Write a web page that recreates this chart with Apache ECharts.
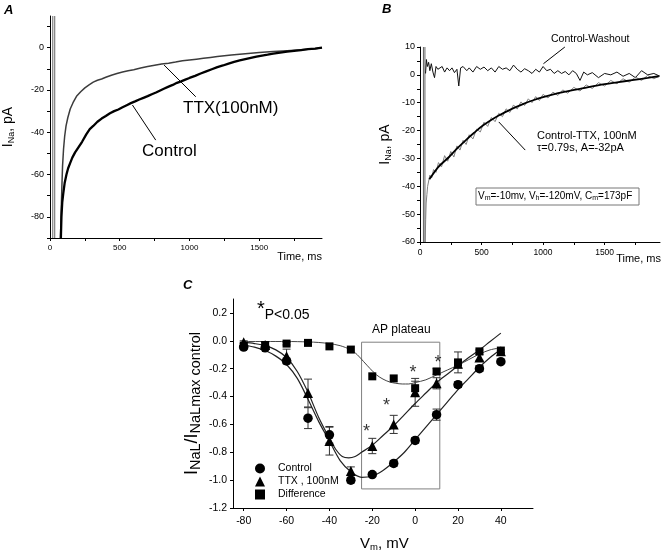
<!DOCTYPE html>
<html><head><meta charset="utf-8">
<script src="https://cdn.jsdelivr.net/npm/echarts@6/dist/echarts.min.js"></script>
<style>html,body{margin:0;padding:0;background:#fff}#c{width:666px;height:555px}</style>
</head><body><div id="c"></div>
<script>
// ---------- Panel A (time course, ms / pA) ----------
const aTtxTrace = [[75,-90],[80,-78],[85,-66],[90,-56],[97,-48],[105,-42],[115,-37],[128,-33],[145,-29],[165,-26],[190,-23],[220,-20.8],[250,-19],[280,-17.6],[310,-16.3],[340,-15.4],[370,-14.8],[400,-14],[440,-13],[480,-12.2],[520,-11.5],[560,-10.9],[600,-10.4],[650,-9.6],[700,-8.9],[750,-8.3],[800,-7.7],[850,-7.3],[900,-6.8],[950,-6.2],[1000,-5.8],[1050,-5.4],[1100,-5],[1150,-4.6],[1200,-4.2],[1300,-3.5],[1400,-2.9],[1500,-2.3],[1600,-1.8],[1700,-1.4],[1800,-1],[1900,-0.5],[1950,0]];
const aControlTrace = [[78,-90],[82,-80],[88,-73],[95,-69],[105,-64],[118,-60],[130,-57],[145,-54.5],[160,-52],[180,-49.5],[205,-47],[230,-44.5],[260,-41],[285,-38.5],[310,-37],[340,-35],[370,-33.5],[400,-32.3],[430,-31],[460,-30],[490,-29.2],[520,-28.2],[550,-27.2],[580,-26.2],[610,-25.4],[640,-24.5],[670,-23.7],[700,-22.9],[730,-22],[760,-21.2],[790,-20.2],[820,-19.3],[850,-18.4],[880,-17.6],[910,-16.6],[940,-15.9],[970,-15.1],[1000,-14.3],[1040,-13.3],[1080,-12.2],[1120,-11.2],[1160,-10.2],[1200,-9.2],[1240,-8.4],[1280,-7.5],[1320,-6.7],[1360,-6],[1400,-5.4],[1440,-4.8],[1480,-4.2],[1520,-3.7],[1560,-3.3],[1600,-2.8],[1650,-2.3],[1700,-1.9],[1750,-1.5],[1800,-1.1],[1850,-0.7],[1900,-0.4],[1950,0]];
const aTransientMs = [20, 34];
const aXTicks = [0,250,500,750,1000,1250,1500,1750];
const aXLabels = [0,500,1000,1500];
const aYTicks = [-90,-80,-70,-60,-50,-40,-30,-20,-10,0,10];
const aYLabels = [-80,-60,-40,-20,0];

// ---------- Panel B ----------
const bWashoutTrace = [[45,0.5],[52,5.5],[60,3],[70,4.5],[80,1.5],[92,4],[105,1],[118,-1],[130,3],[145,2],[160,1.5],[180,3],[200,1],[220,2.5],[240,1.5],[260,2.5],[280,0.8],[300,2],[315,-4],[330,2.5],[350,3],[380,1.5],[400,2.5],[430,1],[460,3],[490,2],[520,2.8],[550,1.5],[580,2.5],[610,1],[640,3],[670,2],[700,2.5],[730,1.5],[760,3.5],[790,2],[820,1],[850,2.2],[880,1.5],[910,0.5],[940,2],[970,1],[1000,3],[1030,1.5],[1060,2],[1090,0.5],[1120,1.5],[1150,0.5],[1180,1.2],[1210,0],[1240,1.5],[1270,0.5],[1300,-2],[1330,1],[1360,0],[1400,0.8],[1450,-1],[1500,0.5],[1550,0],[1600,1],[1650,-0.5],[1700,0.5],[1750,-1],[1800,1.5],[1850,0],[1900,0.5],[1950,-0.5]];
const bSubtractedTrace = [[42,-60],[46,-52],[50,-46],[56,-43],[62,-40],[70,-39.5],[80,-36],[95,-37],[110,-34],[130,-35],[150,-31.5],[175,-33],[200,-29],[225,-31],[250,-27.5],[275,-29.5],[300,-25.5],[325,-27],[350,-23.5],[375,-25],[400,-21.5],[430,-23],[460,-19.5],[490,-20.5],[520,-17],[550,-18.5],[580,-15.3],[610,-16.8],[640,-13.8],[670,-15],[700,-12.2],[730,-13.5],[760,-10.8],[790,-12.3],[820,-9.7],[850,-11],[880,-8.6],[910,-10],[940,-7.8],[970,-9.2],[1000,-7],[1040,-8.3],[1080,-6.2],[1120,-7.4],[1160,-5.4],[1200,-6.6],[1250,-4.5],[1300,-5.8],[1350,-3.6],[1400,-4.9],[1450,-2.8],[1500,-4],[1550,-2],[1600,-3.2],[1650,-1.4],[1700,-2.6],[1750,-0.8],[1800,-2],[1850,-0.2],[1900,-1.4],[1950,-0.3]];
const bFitCurve = [[76,-37.5],[150,-33],[238,-29.4],[300,-26.5],[373,-23.4],[440,-20.8],[508,-18.3],[575,-16.3],[643,-14.5],[710,-13],[778,-11.6],[846,-10.3],[914,-9.2],[1000,-8],[1100,-6.8],[1184,-6],[1300,-5],[1454,-3.7],[1600,-2.7],[1724,-1.9],[1850,-1.1],[1940,-0.5]];
const bTransientMs = [28, 40];
const bXTicks = [0,250,500,750,1000,1250,1500,1750];
const bXLabels = [0,500,1000,1500];
const bYTicks = [-60,-55,-50,-45,-40,-35,-30,-25,-20,-15,-10,-5,0,5,10];
const bYLabels = [-60,-50,-40,-30,-20,-10,0,10];

// ---------- Panel C (I-V) ----------
const cVoltages = [-80,-70,-60,-50,-40,-30,-20,-10,0,10,20,30,40];
const cControl    = [-0.045,-0.05,-0.145,-0.555,-0.675,-1.0,-0.96,-0.88,-0.715,-0.53,-0.315,-0.20,-0.15];
const cControlErr = [0.01,0.01,0.02,0.075,0.06,0.02,0.015,0.02,0.02,0.04,0.02,0.02,0.01];
const cTtx        = [-0.01,-0.03,-0.11,-0.375,-0.72,-0.935,-0.755,-0.60,-0.37,-0.305,-0.165,-0.12,-0.075];
const cTtxErr     = [0.01,0.02,0.05,0.1,0.1,0.03,0.055,0.065,0.1,0.04,0.03,0.02,0.01];
const cDiff       = [-0.035,-0.03,-0.02,-0.015,-0.04,-0.063,-0.255,-0.27,-0.34,-0.22,-0.155,-0.076,-0.07];
const cDiffErr    = [0,0,0.01,0,0,0,0,0,0.05,0.02,0.075,0.01,0];
const cControlFit = [[-80,-0.03],[-75,-0.045],[-70,-0.07],[-65,-0.11],[-60,-0.17],[-55,-0.27],[-50,-0.42],[-45,-0.58],[-40,-0.72],[-35,-0.86],[-30,-0.94],[-25,-0.98],[-20,-0.97],[-15,-0.93],[-10,-0.87],[-5,-0.8],[0,-0.71],[5,-0.62],[10,-0.53],[15,-0.44],[20,-0.35],[25,-0.27],[30,-0.19],[35,-0.12],[40,-0.06]];
const cTtxFit = [[-80,-0.01],[-75,-0.02],[-70,-0.035],[-65,-0.065],[-60,-0.12],[-55,-0.22],[-50,-0.37],[-45,-0.55],[-40,-0.7],[-37,-0.78],[-34,-0.83],[-31,-0.84],[-28,-0.83],[-25,-0.8],[-20,-0.75],[-15,-0.68],[-10,-0.61],[-5,-0.53],[0,-0.45],[5,-0.375],[10,-0.3],[15,-0.24],[20,-0.18],[25,-0.12],[30,-0.065],[35,-0.005],[40,0.055]];
const cDiffFit = [[-80,-0.005],[-70,-0.005],[-60,-0.005],[-50,-0.008],[-45,-0.012],[-40,-0.02],[-35,-0.035],[-30,-0.065],[-27,-0.1],[-24,-0.15],[-21,-0.2],[-18,-0.245],[-15,-0.275],[-12,-0.295],[-9,-0.305],[-6,-0.31],[-3,-0.31],[0,-0.3],[5,-0.28],[10,-0.245],[15,-0.21],[20,-0.175],[25,-0.135],[30,-0.095],[35,-0.065],[40,-0.05]];
const cStars = [[-22.7,-0.63],[-13.4,-0.45],[-1,-0.21],[10.7,-0.135]];
const cPlateau = [[-25,-0.01],[11.5,-1.063]];
const cXTicks = [-80,-60,-40,-20,0,20,40];
const cYTicks = [-1.2,-1.0,-0.8,-0.6,-0.4,-0.2,0,0.2];

const FONT = 'Liberation Sans, Arial, Helvetica, sans-serif';
const chart = echarts.init(document.getElementById('c'), null, {renderer:'canvas', width:666, height:555});
const plain = v => String(v);

function xAxisCfg(grid, min, max, ticks, labels, fs, margin){
  return {type:'value', gridIndex:grid, min, max, splitLine:{show:false},
    axisLine:{show:true, onZero:false, lineStyle:{color:'#000', width:1}},
    axisTick:{show:true, inside:false, length:3, customValues:ticks, lineStyle:{color:'#000'}},
    axisLabel:{customValues:labels, fontSize:fs, margin, color:'#000', fontFamily:FONT, formatter:plain}};
}
function yAxisCfg(grid, min, max, ticks, labels, fs, margin, fmt){
  return {type:'value', gridIndex:grid, min, max, splitLine:{show:false},
    axisLine:{show:true, onZero:false, lineStyle:{color:'#000', width:1}},
    axisTick:{show:true, inside:false, length:3, customValues:ticks, lineStyle:{color:'#000'}},
    axisLabel:{customValues:labels, fontSize:fs, margin, color:'#000', fontFamily:FONT, formatter:fmt || plain}};
}
function subRich(main, sub, pad){
  return {m:{fontSize:main, fontFamily:FONT, fontWeight:'normal', color:'#000'},
          s:{fontSize:sub, fontFamily:FONT, fontWeight:'normal', color:'#000', padding:[pad,0,0,0]}};
}
function vline(xi, yi, x, y0, y1, color, w){
  return {type:'line', xAxisIndex:xi, yAxisIndex:yi, data:[[x,y0],[x,y1]], showSymbol:false, symbol:'none',
    lineStyle:{color, width:w}, silent:true};
}
const arrowStyle = {color:'#000', width:1, type:'solid'};
function arrows(pairs){
  return {symbol:['none','arrow'], symbolSize:[0,7], silent:true, label:{show:false}, lineStyle:arrowStyle,
    data: pairs.map(p => [{coord:p[0]},{coord:p[1]}])};
}
function errBar(xi, yi, vals, errs, z){
  return {type:'custom', xAxisIndex:xi, yAxisIndex:yi, z,
    data: cVoltages.map((v,i)=>[v, vals[i], errs[i]]),
    encode:{x:0, y:1},
    renderItem(params, api){
      const x = api.value(0), y = api.value(1), e = api.value(2);
      if (!e) return null;
      const t = api.coord([x, y+e]), b = api.coord([x, y-e]);
      const hw = 4, st = {stroke:'#333', lineWidth:1};
      return {type:'group', children:[
        {type:'line', shape:{x1:t[0], y1:t[1], x2:b[0], y2:b[1]}, style:st},
        {type:'line', shape:{x1:t[0]-hw, y1:t[1], x2:t[0]+hw, y2:t[1]}, style:st},
        {type:'line', shape:{x1:b[0]-hw, y1:b[1], x2:b[0]+hw, y2:b[1]}, style:st}
      ]};
    }};
}
function title(text, left, top, fs, extra){
  return {text, left, top, padding:0, textStyle:Object.assign({fontSize:fs, fontWeight:'normal', fontFamily:FONT, color:'#000'}, (extra||{}))};
}

const option = {
  animation:false,
  backgroundColor:'#fff',
  grid:[
    {left:49, top:16, width:273, height:222},
    {left:420, top:47, width:240, height:195},
    {left:233, top:299, width:300, height:209}
  ],
  xAxis:[
    xAxisCfg(0, 0, 1950, aXTicks, aXLabels, 8, 6),
    xAxisCfg(1, 0, 1950, bXTicks, bXLabels, 8.5, 6),
    xAxisCfg(2, -85, 55, cXTicks, cXTicks, 10.5, 8)
  ],
  yAxis:[
    Object.assign(yAxisCfg(0, -90, 15, aYTicks, aYLabels, 9, 6), {
      name:'{m|I}{s|Na}{m|, pA}', nameLocation:'middle', nameRotate:90, nameGap:34,
      nameTextStyle:{rich:subRich(14,9,7)}}),
    Object.assign(yAxisCfg(1, -60, 10, bYTicks, bYLabels, 9, 5), {
      name:'{m|I}{s|Na}{m|, pA}', nameLocation:'middle', nameRotate:90, nameGap:27,
      nameTextStyle:{rich:subRich(14,9,7)}}),
    Object.assign(yAxisCfg(2, -1.2, 0.3, cYTicks, cYTicks, 10.5, 6, v => v.toFixed(1)), {
      name:'{m|I}{s|NaL}{m|/I}{s|NaLmax control}', nameLocation:'middle', nameRotate:90, nameGap:30,
      nameTextStyle:{rich:subRich(18,14.5,7)}})
  ],
  legend:{
    orient:'vertical', left:250, top:457, itemWidth:10, itemHeight:10, itemGap:0,
    textStyle:{fontSize:10.5, fontFamily:FONT, color:'#000', lineHeight:13, padding:[0,0,0,8]},
    itemStyle:{opacity:1},
    data:['Control','TTX , 100nM','Difference']
  },
  title:[
    title('A', 4, 4, 13, {fontWeight:'bold', fontStyle:'italic'}),
    title('B', 382, 3, 13, {fontWeight:'bold', fontStyle:'italic'}),
    title('C', 183, 279, 13, {fontWeight:'bold', fontStyle:'italic'}),
    Object.assign(title('Time, ms', null, 251, 11), {right:344, left:undefined}),
    Object.assign(title('Time, ms', null, 253, 11), {right:5, left:undefined}),
    title('TTX(100nM)', 183, 100, 17),
    title('Control', 142, 143, 17),
    title('Control-Washout', 551, 34, 10.5),
    title('Control-TTX, 100nM', 537, 130, 11),
    title('τ=0.79s, A=-32pA', 537, 142, 11),
    {text:'{m|V}{s|m}{m|=-10mv, V}{s|h}{m|=-120mV, C}{s|m}{m|=173pF}', left:478, top:190, padding:0,
      textStyle:{fontSize:10, fontWeight:'normal', fontFamily:FONT, color:'#000', rich:subRich(10,7,5)}},
    {text:'{st|*}{t|P<0.05}', left:257, top:299, padding:0,
      textStyle:{fontFamily:FONT, fontWeight:'normal', color:'#000',
        rich:{st:{fontSize:20, fontFamily:FONT, fontWeight:'normal', color:'#000', padding:[0,0,6,0]},
              t:{fontSize:14, fontFamily:FONT, fontWeight:'normal', color:'#000', padding:[6,0,0,0]}}}},
    title('AP plateau', 372, 324, 12),
    {text:'{m|V}{s|m}{m|, mV}', left:360, top:535, padding:0,
      textStyle:{fontFamily:FONT, fontWeight:'normal', color:'#000', rich:subRich(15,9.5,7)}}
  ],
  graphic:[
    {type:'rect', shape:{x:476, y:188, width:163, height:17}, style:{fill:'#fff', stroke:'#777', lineWidth:1}, z:-1, silent:true}
  ],
  series:[
    // Panel A
    vline(0,0,aTransientMs[0],-90,15,'#666',1),
    vline(0,0,aTransientMs[1],-90,15,'#666',1),
    {type:'line', name:'aTTX', xAxisIndex:0, yAxisIndex:0, data:aTtxTrace, showSymbol:false, symbol:'none',
      lineStyle:{color:'#3c3c3c', width:1.5}},
    {type:'line', name:'aControl', xAxisIndex:0, yAxisIndex:0, data:aControlTrace, showSymbol:false, symbol:'none',
      lineStyle:{color:'#000', width:2.3},
      markLine:arrows([[[1045,-23.2],[818,-8.2]],[[758,-43.7],[591,-27.1]]])},
    // Panel B
    vline(1,1,bTransientMs[0],-60,10,'#666',1),
    vline(1,1,bTransientMs[1],-60,10,'#666',1),
    {type:'line', name:'bWash', xAxisIndex:1, yAxisIndex:1, data:bWashoutTrace, showSymbol:false, symbol:'none',
      lineStyle:{color:'#111', width:1}},
    {type:'line', name:'bSub', xAxisIndex:1, yAxisIndex:1, data:bSubtractedTrace, showSymbol:false, symbol:'none',
      lineStyle:{color:'#808080', width:1}},
    {type:'line', name:'bFit', xAxisIndex:1, yAxisIndex:1, data:bFitCurve, showSymbol:false, symbol:'none', smooth:0.3,
      lineStyle:{color:'#000', width:1.8},
      markLine:arrows([[[1177,10],[1003,4.0]],[[855,-27],[640,-16.9]]])},
    // Panel C
    {type:'line', name:'cCtrlFit', xAxisIndex:2, yAxisIndex:2, data:cControlFit, showSymbol:false, symbol:'none', smooth:0.3,
      lineStyle:{color:'#222', width:1.2},
      markArea:{silent:true, itemStyle:{color:'rgba(0,0,0,0)', borderColor:'#808080', borderWidth:1}, label:{show:false},
        data:[[{coord:cPlateau[0]},{coord:cPlateau[1]}]]}},
    {type:'line', name:'cTtxFit', xAxisIndex:2, yAxisIndex:2, data:cTtxFit, showSymbol:false, symbol:'none', smooth:0.3,
      lineStyle:{color:'#222', width:1.2}},
    {type:'line', name:'cDiffFit', xAxisIndex:2, yAxisIndex:2, data:cDiffFit, showSymbol:false, symbol:'none', smooth:0.3,
      lineStyle:{color:'#444', width:1}},
    errBar(2,2,cControl,cControlErr,3),
    errBar(2,2,cTtx,cTtxErr,3),
    errBar(2,2,cDiff,cDiffErr,3),
    {type:'scatter', name:'Difference', xAxisIndex:2, yAxisIndex:2, symbol:'rect', symbolSize:8, z:4,
      itemStyle:{color:'#000', opacity:1}, data:cVoltages.map((v,i)=>[v,cDiff[i]])},
    {type:'scatter', name:'TTX , 100nM', xAxisIndex:2, yAxisIndex:2, symbol:'triangle', symbolSize:10, z:5,
      itemStyle:{color:'#000', opacity:1}, data:cVoltages.map((v,i)=>[v,cTtx[i]])},
    {type:'scatter', name:'Control', xAxisIndex:2, yAxisIndex:2, symbol:'circle', symbolSize:9.5, z:6,
      itemStyle:{color:'#000', opacity:1}, data:cVoltages.map((v,i)=>[v,cControl[i]])},
    {type:'scatter', name:'stars', xAxisIndex:2, yAxisIndex:2, symbol:'circle', symbolSize:1, z:7,
      itemStyle:{color:'rgba(0,0,0,0)'}, data:cStars,
      label:{show:true, position:'inside', formatter:'*', fontSize:18, fontFamily:FONT, color:'#000', offset:[0,3]}}
  ]
};
chart.setOption(option);
</script>
</body></html>
